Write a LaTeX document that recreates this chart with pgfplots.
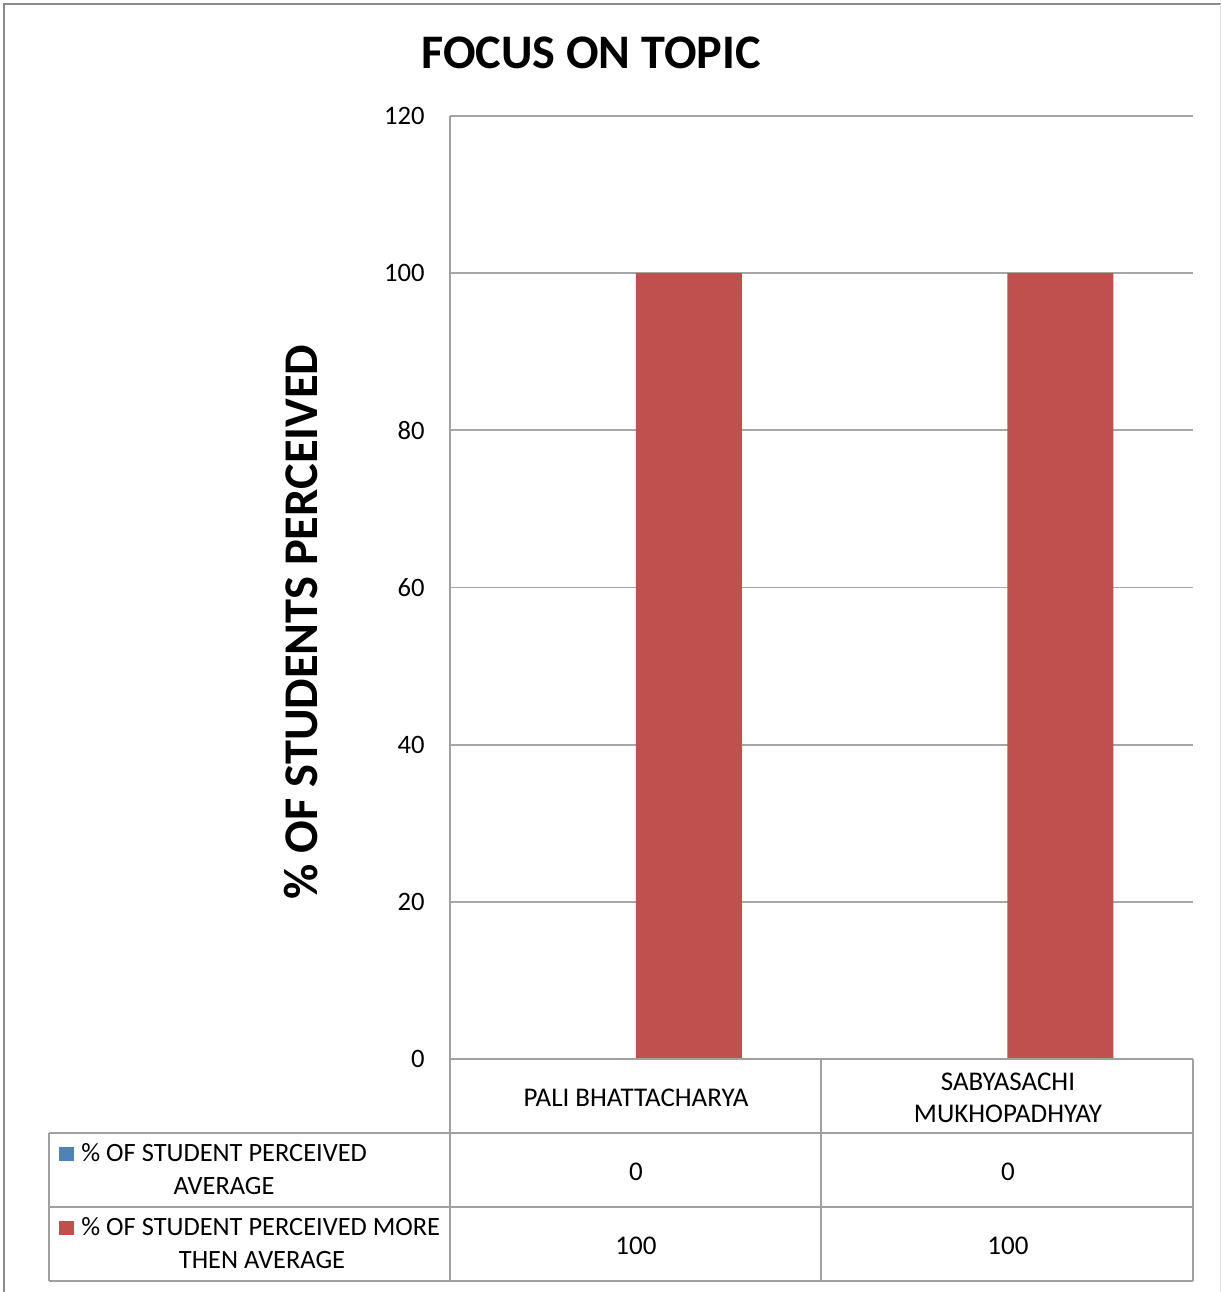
\documentclass[border=0pt]{standalone}
\usepackage{pgfplots}
\pgfplotsset{compat=1.18}
\usepackage{fontspec}
\setmainfont{Carlito}
\definecolor{cblue}{HTML}{4F81BD}
\definecolor{cred}{HTML}{C0504D}
\definecolor{gline}{HTML}{A0A0A0}
\definecolor{gridc}{HTML}{A6A6A6}
\begin{document}
\begin{tikzpicture}[x=0.5pt,y=-0.5pt]
\useasboundingbox (0,0) rectangle (1221,1292);
% outer border
\draw[line width=1.2pt,color=gray!90] (4,1300) -- (4,4) -- (1221,4);
\draw[line width=0.5pt,color=gray!25] (1220,4) -- (1220,1300);
\coordinate (O) at (450,1059);
\begin{axis}[
  at={(O)}, anchor=south west,
  scale only axis, width=371.5pt, height=471.5pt,
  xmin=-0.5, xmax=1.5, ymin=0, ymax=120,
  ytick={0,20,...,120},
  axis x line=none, axis y line=left,
  axis line style={-, color=gline, line width=1pt},
  ymajorgrids, grid style={color=gridc, line width=0.9pt},
  major tick length=0pt,
  ytick style={draw=none},
  yticklabel style={font=\fontsize{13.3}{15}\selectfont, inner sep=0pt, xshift=-12.5pt},
  /pgf/number format/assume math mode=true,
  ybar=0pt, bar width=53pt,
  clip=false,
]
\addplot[fill=cblue, draw=none] coordinates {(0,0) (1,0)};
\addplot[fill=cred, draw=none] coordinates {(0,100) (1,100)};
\end{axis}
% title and y label
\node[font=\fontsize{24.1}{28}\selectfont\bfseries] at (591,53) {FOCUS ON TOPIC};
\node[font=\fontsize{24.2}{28}\selectfont\bfseries, rotate=90] at (301,622) {\% OF STUDENTS PERCEIVED};
% data table lines
\begin{scope}[color=gline, line width=1pt]
\draw (450,1059) -- (1193,1059);
\draw (49,1133) -- (1193,1133);
\draw (49,1207) -- (1193,1207);
\draw (49,1281) -- (1193,1281);
\draw (49,1133) -- (49,1281);
\draw (450,1059) -- (450,1281);
\draw (821,1059) -- (821,1281);
\draw (1193,1059) -- (1193,1281);
\end{scope}
\begin{scope}[font=\fontsize{13.5}{15}\selectfont, inner sep=0pt]
\node[anchor=base] at (636,1106) {PALI BHATTACHARYA};
\node[anchor=base] at (1008,1090) {SABYASACHI};
\node[anchor=base] at (1008,1122) {MUKHOPADHYAY};
\node[anchor=base] at (636,1180) {0};
\node[anchor=base] at (1008,1180) {0};
\node[anchor=base] at (636,1254) {100};
\node[anchor=base] at (1008,1254) {100};
\end{scope}
\begin{scope}[font=\fontsize{13.2}{15}\selectfont, inner sep=0pt]
\fill[cblue] (59,1147) rectangle (74,1161);
\fill[cred] (59,1221) rectangle (74,1235);
\node[anchor=base west] at (81,1161) {\% OF STUDENT PERCEIVED};
\node[anchor=base] at (224,1194) {AVERAGE};
\node[anchor=base west] at (81,1235) {\% OF STUDENT PERCEIVED MORE};
\node[anchor=base] at (262,1268) {THEN AVERAGE};
\end{scope}
\end{tikzpicture}
\end{document}
